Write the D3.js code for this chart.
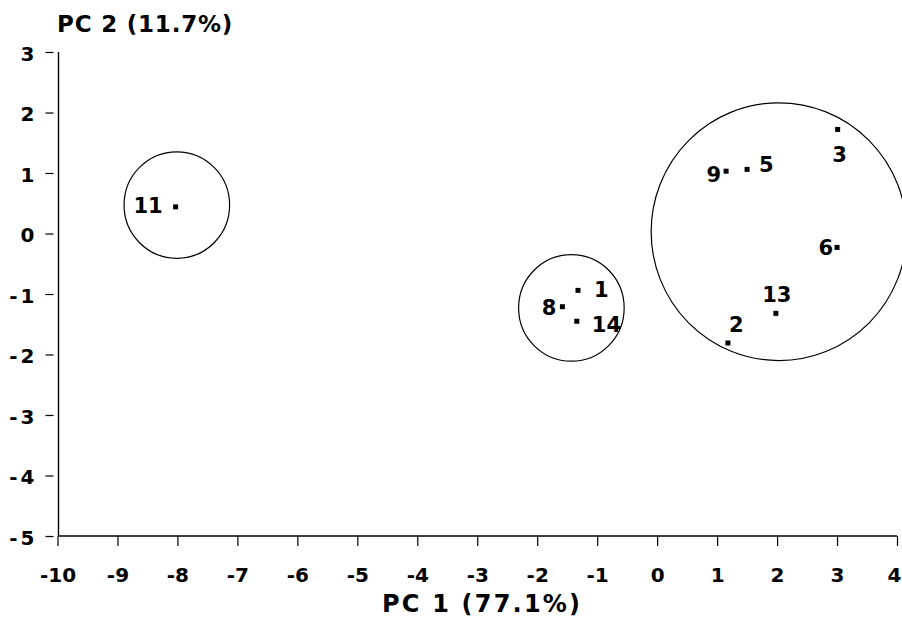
<!DOCTYPE html>
<html><head><meta charset="utf-8">
<script src="https://cdn.jsdelivr.net/npm/d3@7"></script>
<style>
html,body{margin:0;padding:0;background:#fff;}
svg{display:block;}
text{font-family:"DejaVu Sans","Liberation Sans",Arial,sans-serif;font-weight:bold;fill:#000;}
</style></head>
<body>
<svg id="chart" width="902" height="619"></svg>
<script>
// ---- data ----
const sampleIds = ["1","2","3","5","6","8","9","11","13","14"];
const pc1Values = [-1.32, 1.18, 3.01, 1.50, 3.00, -1.58, 1.15, -8.03, 1.98, -1.34];
const pc2Values = [-0.94, -1.81, 1.72, 1.06, -0.23, -1.21, 1.03, 0.44, -1.32, -1.45];
const groupCenterX = [-8.01, -1.43, 2.03];
const groupCenterY = [0.47, -1.23, 0.03];
const groupRadius = [0.88, 0.88, 2.13];
const xTicks = [-10,-9,-8,-7,-6,-5,-4,-3,-2,-1,0,1,2,3,4];
const yTicks = [3,2,1,0,-1,-2,-3,-4,-5];
const xTitle = "PC 1 (77.1%)";
const yTitle = "PC 2 (11.7%)";

// label placement (style only)
const labelPlace = {
  "11":{a:"end",dx:-13,dy:6}, "1":{a:"start",dx:16,dy:7}, "8":{a:"end",dx:-6,dy:8},
  "14":{a:"start",dx:15,dy:11}, "13":{a:"middle",dx:1,dy:-11}, "2":{a:"start",dx:1,dy:-11},
  "6":{a:"end",dx:-4,dy:8}, "3":{a:"middle",dx:2,dy:33}, "9":{a:"end",dx:-5,dy:11},
  "5":{a:"start",dx:12,dy:3}
};

const svg = d3.select("#chart");
const x = d3.scaleLinear().domain([-10,4]).range([57.5,897]);
const y = d3.scaleLinear().domain([-5,3]).range([536,52]);
const axisX0 = 58.5;
const FONT = '"DejaVu Sans","Liberation Sans",Arial,sans-serif';

// x axis
const gx = svg.append("g").attr("transform",`translate(0,${y(-5)})`)
  .call(d3.axisBottom(x).tickValues(xTicks).tickSize(10).tickSizeOuter(0).tickFormat(d=>String(d)));
gx.select(".domain").attr("stroke","#000").attr("stroke-width",1.4).attr("d",`M${axisX0},0H${x(4)}`);
gx.selectAll(".tick line").attr("stroke","#000").attr("stroke-width",1.2);
gx.selectAll(".tick text").attr("y",46).attr("dy",0).attr("font-size",20)
  .attr("dx",d=>d===4?-3:0);

// y axis
const gy = svg.append("g").attr("transform",`translate(${axisX0},0)`)
  .call(d3.axisLeft(y).tickValues(yTicks).tickSize(0).tickSizeOuter(0).tickFormat(d=>String(d)));
gy.select(".domain").attr("stroke","#000").attr("stroke-width",1.4).attr("d",`M0,${y(3)}V${y(-5)}`);
gy.selectAll(".tick line").attr("x1",-5).attr("x2",-13).attr("stroke","#000").attr("stroke-width",1.2);
gy.selectAll(".tick text").attr("x",-21).attr("dy","0.42em").attr("font-size",20)
  .style("letter-spacing","3px");
svg.selectAll(".tick text").style("font-weight","bold").style("font-family",FONT);

// titles
svg.append("text").attr("x",57).attr("y",32).attr("font-size",23)
  .style("letter-spacing","0.8px").text(yTitle);
svg.append("text").attr("x",382).attr("y",612).attr("font-size",24)
  .style("letter-spacing","2.2px").text(xTitle);

// group circles
svg.append("g").selectAll("ellipse").data(groupCenterX).join("ellipse")
  .attr("cx",(d)=>x(d))
  .attr("cy",(d,i)=>y(groupCenterY[i]))
  .attr("rx",(d,i)=>x(groupRadius[i])-x(0))
  .attr("ry",(d,i)=>y(0)-y(groupRadius[i]))
  .attr("fill","none").attr("stroke","#000").attr("stroke-width",1.2);

// points
const pts = sampleIds.map((id,i)=>({id,px:pc1Values[i],py:pc2Values[i]}));
svg.append("g").selectAll("rect").data(pts).join("rect")
  .attr("x",d=>x(d.px)-2.5).attr("y",d=>y(d.py)-2.5).attr("width",5).attr("height",5).attr("fill","#000");

// labels
svg.append("g").selectAll("text").data(pts).join("text")
  .attr("x",d=>x(d.px)+labelPlace[d.id].dx)
  .attr("y",d=>y(d.py)+labelPlace[d.id].dy)
  .attr("text-anchor",d=>labelPlace[d.id].a)
  .attr("font-size",21)
  .text(d=>d.id);
</script>
</body></html>
